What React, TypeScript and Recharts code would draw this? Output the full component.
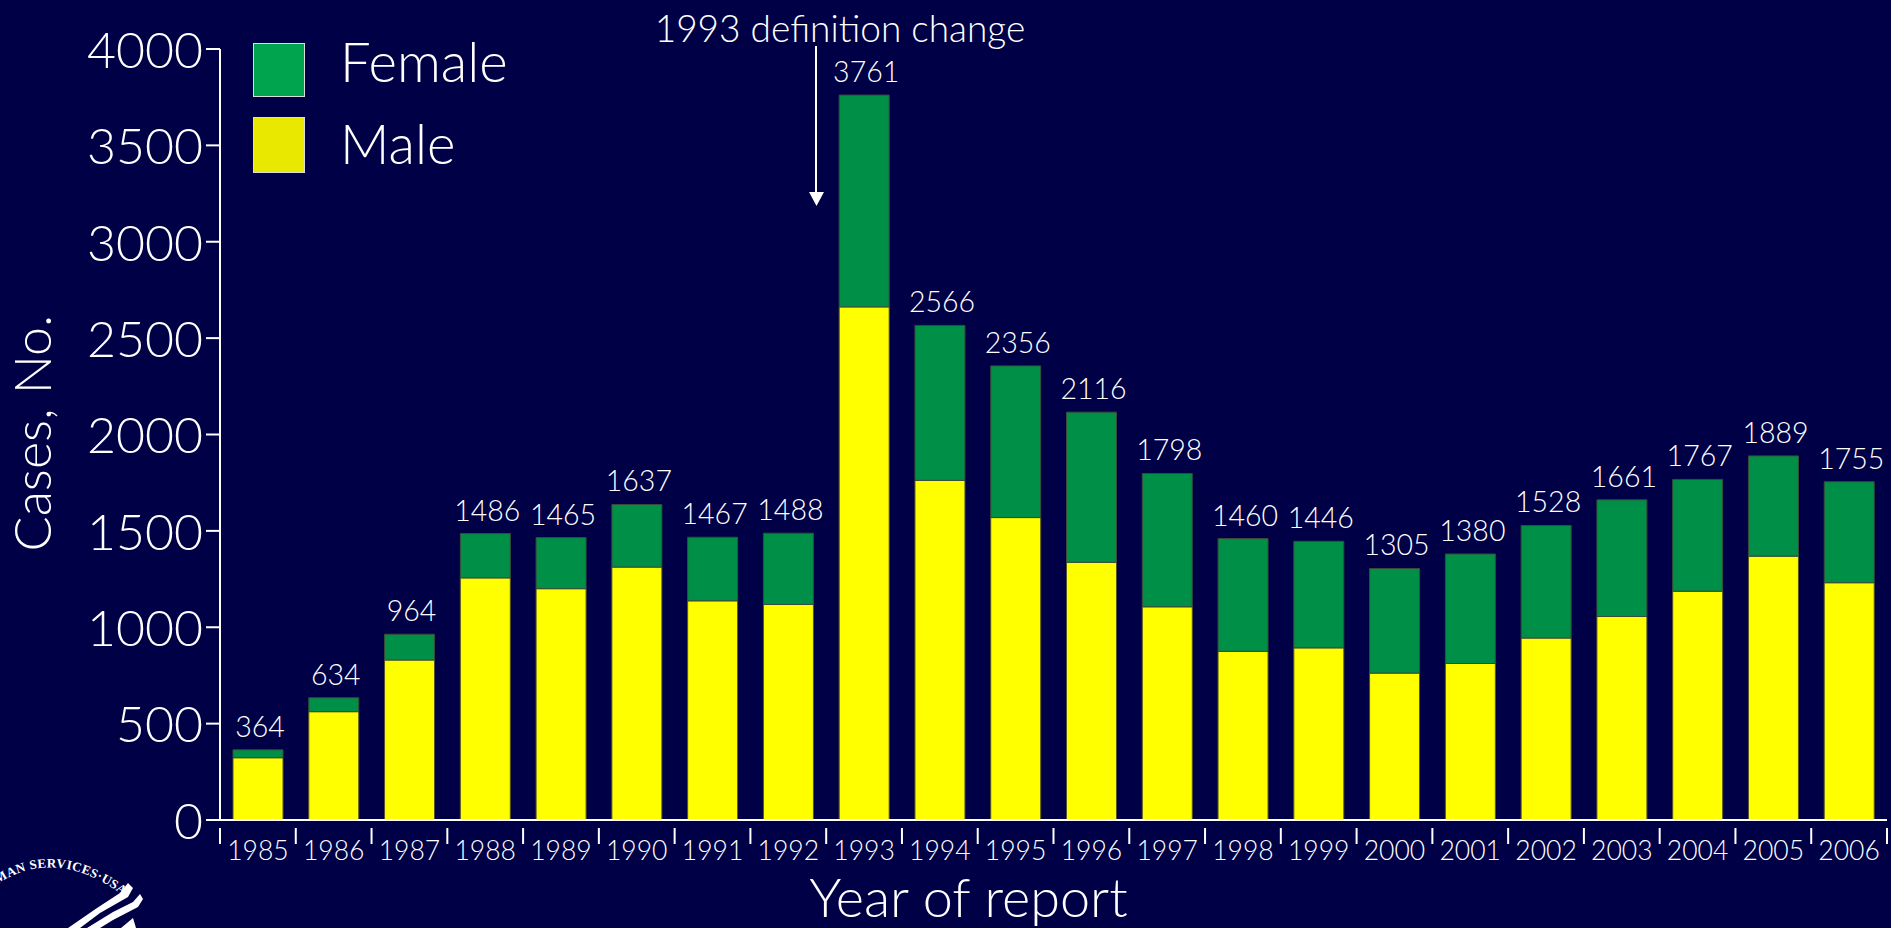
import React from 'react';
import { BarChart, Bar, XAxis, YAxis, LabelList, Legend } from 'recharts';

const years = ['1985','1986','1987','1988','1989','1990','1991','1992','1993','1994','1995','1996','1997','1998','1999','2000','2001','2002','2003','2004','2005','2006'];
const totals = [364,634,964,1486,1465,1637,1467,1488,3761,2566,2356,2116,1798,1460,1446,1305,1380,1528,1661,1767,1889,1755];
const male = [323,562,830,1256,1200,1312,1137,1118,2662,1762,1569,1337,1106,875,893,762,812,944,1056,1187,1369,1231];
const yTicks = [0,500,1000,1500,2000,2500,3000,3500,4000];

const data = years.map((year, i) => ({ year, Male: male[i], Female: totals[i] - male[i], total: totals[i] }));

const W = 1891, H = 928, BG = '#000046', FONT = 'Lato, "Open Sans", sans-serif';
const LEFT = 220, RIGHT = 4, TOP = 49, BOTTOM = 108;
const BAND = (W - LEFT - RIGHT) / years.length;

const XTick = (props: any) => {
  const { x, y, payload, index } = props;
  const left = x - BAND / 2;
  return (
    <g>
      <line x1={left} x2={left} y1={y} y2={y + 16} stroke="#fff" strokeWidth={2} />
      {index === years.length - 1 && <line x1={x + BAND / 2} x2={x + BAND / 2} y1={y} y2={y + 16} stroke="#fff" strokeWidth={2} />}
      <text x={x} y={y + 32} textAnchor="middle" fill="#fff" fontSize={26.5} fontFamily={FONT} fontWeight={300}>{payload.value}</text>
    </g>
  );
};

const LegendBox = () => {
  const items = [['Female', '#00A44F', 43, 52, 67], ['Male', '#E8E800', 117, 54, 149]] as const;
  return (
    <div style={{ position: 'relative', width: 600, height: 180 }}>
      {items.map(([name, color, top, h, textY]) => (
        <React.Fragment key={name}>
          <div style={{ position: 'absolute', left: 253, top, width: 50, height: h, background: color, border: '1px solid #ddd' }} />
          <div style={{ position: 'absolute', left: 340, top: textY - 36, lineHeight: '60px', height: 60, color: '#fff', fontSize: 54.5, fontFamily: FONT, fontWeight: 300 }}>{name}</div>
        </React.Fragment>
      ))}
    </div>
  );
};

export default function App() {
  return (
    <div style={{ position: 'fixed', left: 0, top: 0, width: W, height: H, background: BG, overflow: 'hidden' }}>
      <BarChart width={W} height={H} data={data} margin={{ top: TOP, right: RIGHT, bottom: 0, left: 0 }} barSize={50} style={{ position: 'absolute', left: 0, top: 0 }}>
        <XAxis dataKey="year" height={BOTTOM} interval={0} axisLine={{ stroke: '#fff', strokeWidth: 2 }} tickLine={false} tick={<XTick />}
          label={{ value: 'Year of report', position: 'insideBottom', offset: 11, fill: '#fff', fontSize: 54, fontFamily: FONT, fontWeight: 300, dx: -85 }} />
        <YAxis width={LEFT} domain={[0, 4000]} ticks={yTicks} interval={0} axisLine={{ stroke: '#fff', strokeWidth: 2 }} tickLine={{ stroke: '#fff', strokeWidth: 2 }} tickSize={14} tickMargin={3}
          tick={{ fill: '#fff', fontSize: 50, fontFamily: FONT, fontWeight: 300, dy: 1 }}
          label={{ value: 'Cases, No.', angle: -90, position: 'insideLeft', offset: 0, fill: '#fff', fontSize: 52, fontFamily: FONT, fontWeight: 300, dx: 33, dy: 117 }} />
        <Legend layout="vertical" align="center" verticalAlign="middle" content={<LegendBox />} wrapperStyle={{ left: 0, top: 0, width: 600, height: 180 }} />
        <Bar dataKey="Male" stackId="a" fill="#FFFF00" stroke="#55552a" strokeWidth={1} isAnimationActive={false} />
        <Bar dataKey="Female" stackId="a" fill="#008F47" stroke="#3a4a3a" strokeWidth={1} isAnimationActive={false}>
          <LabelList dataKey="total" position="top" offset={13} dx={2} fill="#fff" fontSize={28.5} fontFamily={FONT} fontWeight={300} />
        </Bar>
      </BarChart>
      <svg width={W} height={H} style={{ position: 'absolute', left: 0, top: 0, pointerEvents: 'none' }}>
        <text x={840} y={42} textAnchor="middle" fill="#fff" fontSize={37} fontFamily={FONT} fontWeight={300}>1993 definition change</text>
        <line x1={816} x2={816} y1={46} y2={195} stroke="#fff" strokeWidth={2} />
        <polygon points="809,192 824,192 816.5,206" fill="#fff" />
        <defs><path id="sealArc" d="M -14 892 Q 50 841 124 896" /></defs>
        <text fill="#fff" fontSize={13} fontFamily='"Liberation Serif", serif' fontWeight={700} letterSpacing={0.4}>
          <textPath href="#sealArc" startOffset="14">MAN SERVICES·USA</textPath>
        </text>
        <polygon points="128,883 133,888 128,897 100,913 80,928 68,928 97,908 120,893" fill="#fff" />
        <polygon points="140,894 143,899 138,907 113,920 100,928 87,928 113,912 133,902" fill="#fff" />
        <polygon points="133,918 136,928 121,928" fill="#fff" />
      </svg>
    </div>
  );
}
